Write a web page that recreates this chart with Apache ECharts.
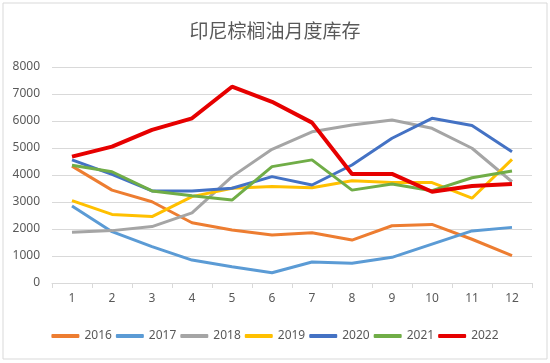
<!DOCTYPE html>
<html>
<head>
<meta charset="utf-8">
<script src="https://cdn.jsdelivr.net/npm/echarts@6/dist/echarts.min.js"></script>
<style>html,body{margin:0;padding:0;background:#fff}#c{width:550px;height:363px}</style>
</head>
<body>
<div id="c"></div>
<script>
const categories = ['1','2','3','4','5','6','7','8','9','10','11','12'];
const yTicks = [0,1000,2000,3000,4000,5000,6000,7000,8000];
const s2016 = [4330,3440,3010,2230,1960,1780,1860,1590,2120,2170,1620,1010];
const s2017 = [2850,1900,1350,850,600,380,780,730,950,1440,1930,2060];
const s2018 = [1880,1940,2090,2600,3940,4950,5600,5850,6040,5730,4990,3750];
const s2019 = [3050,2540,2460,3200,3510,3570,3530,3790,3720,3720,3140,4580];
const s2020 = [4560,4020,3410,3410,3510,3940,3630,4370,5360,6100,5830,4860];
const s2021 = [4360,4120,3410,3230,3070,4310,4560,3440,3670,3420,3900,4150];
const s2022 = [4680,5050,5670,6100,7270,6710,5940,4040,4040,3380,3590,3670];
const seriesNames = ['2016','2017','2018','2019','2020','2021','2022'];
const seriesData = [s2016,s2017,s2018,s2019,s2020,s2021,s2022];
const colors = ['#ED7D31','#5B9BD5','#A5A5A5','#FFC000','#4472C4','#70AD47','#E60000'];
const widths = [3,3,3,3,3,3,4];

const chart = echarts.init(document.getElementById('c'));
chart.setOption({
  animation: false,
  color: colors,
  title: {
    text: '印尼棕榈油月度库存',
    left: 'center', top: 16,
    textStyle: {fontFamily: 'Noto Sans CJK SC', fontSize: 19, fontWeight: 'normal', color: '#595959'}
  },
  graphic: [{type:'rect', shape:{x:3,y:3,width:544,height:356}, style:{fill:'none', stroke:'#d9d9d9', lineWidth:1}, silent:true}],
  legend: {
    bottom: 16, left: 'center',
    itemWidth: 28, itemHeight: 4, itemGap: 4,
    icon: 'roundRect',
    textStyle: {fontFamily: 'Noto Sans', fontSize: 12, color: '#595959'},
    data: seriesNames
  },
  grid: {left: 52, right: 18, top: 67, bottom: 80},
  xAxis: {
    type: 'category', data: categories, boundaryGap: true,
    axisLine: {lineStyle: {color: '#d9d9d9'}},
    axisTick: {show: true, length: 5, lineStyle: {color: '#d9d9d9'}},
    axisLabel: {color: '#595959', fontFamily: 'Noto Sans', fontSize: 12, margin: 10}
  },
  yAxis: {
    type: 'value', min: yTicks[0], max: yTicks[yTicks.length-1], interval: 1000,
    axisLine: {show: false}, axisTick: {show: false},
    splitLine: {lineStyle: {color: '#d9d9d9'}},
    axisLabel: {color: '#595959', fontFamily: 'Noto Sans', fontSize: 12, margin: 12, formatter: v => String(v)}
  },
  series: seriesNames.map((n,i) => ({
    name: n, type: 'line', data: seriesData[i],
    symbol: 'none', lineStyle: {width: widths[i], color: colors[i]},
    itemStyle: {color: colors[i]}
  }))
});
</script>
</body>
</html>
